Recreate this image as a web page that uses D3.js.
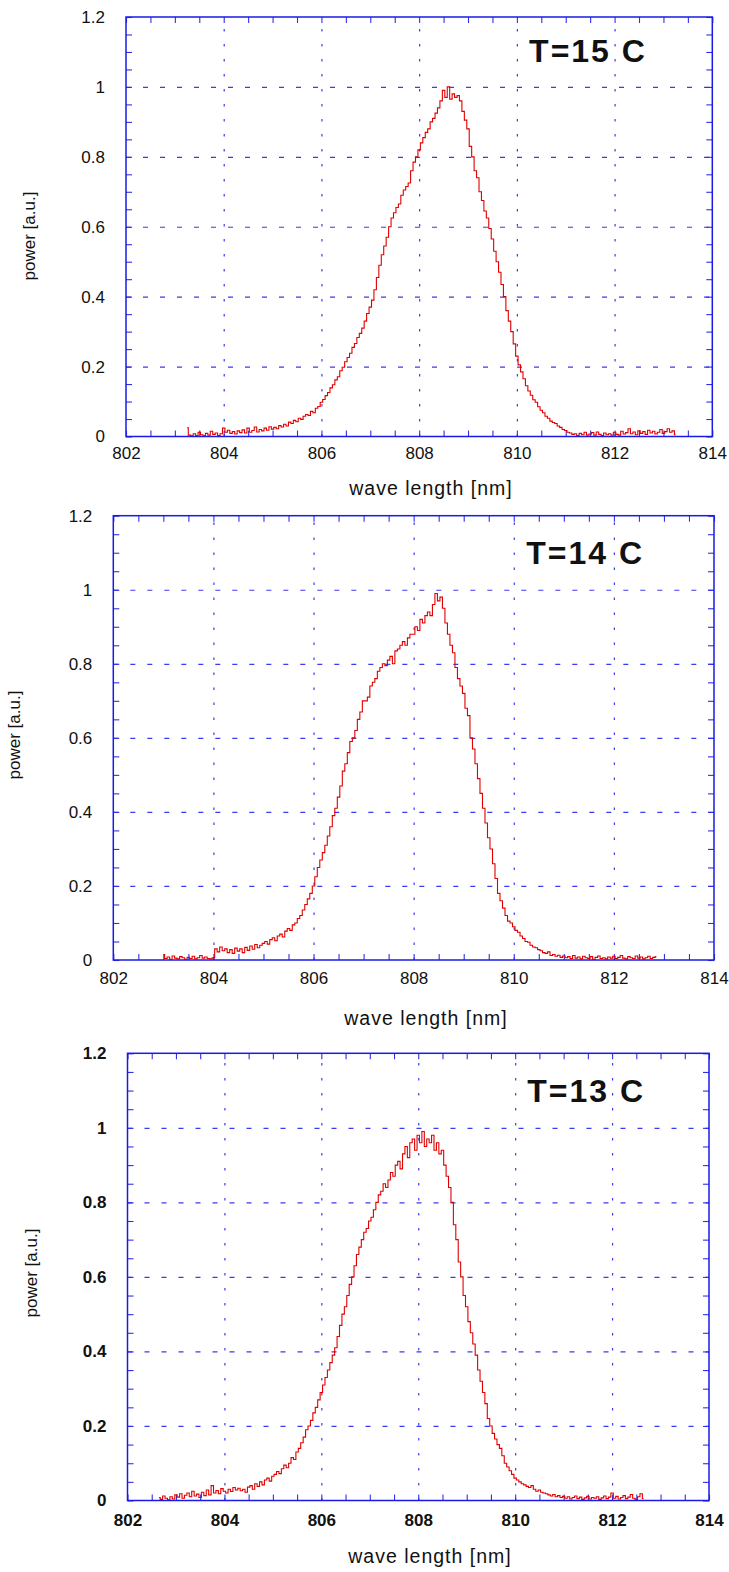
<!DOCTYPE html>
<html>
<head>
<meta charset="utf-8">
<script src="https://cdn.jsdelivr.net/npm/d3@7"></script>
<style>
  body { margin: 0; background: #fff; }
  svg text { font-family: "Liberation Sans", Arial, sans-serif; fill: #111; }
</style>
</head>
<body>
<svg id="chart" width="729" height="1572"></svg>
<script>
// Tick values and labels
const xTicks = [802, 804, 806, 808, 810, 812, 814];
const yTicks = [0, 0.2, 0.4, 0.6, 0.8, 1, 1.2];
const titles = ["T=15 C", "T=14 C", "T=13 C"];
const xLabel = "wave length [nm]";
const yLabel = "power [a.u.]";

// Spectra: first wavelength of each record (nm), sampled every 0.05 nm
const step = 0.05;
const start15 = 803.25;
const start14 = 803.0;
const start13 = 802.65;

// T=15 C
const power15 = [
  .025, .004, .002, .008, .003, .012, .005, .002, .009, .004, .015, .006, .010, .003, .008, .024, .012, .018,
  .009, .014, .007, .016, .011, .019, .010, .024, .012, .017, .027, .013, .020, .016, .024, .018, .028, .021,
  .026, .022, .031, .027, .035, .030, .041, .037, .046, .042, .052, .049, .058, .063, .060, .072, .068, .081, .086, .098,
  .106, .117, .126, .139, .148, .162, .171, .188, .198, .214, .226, .238, .255, .266, .283, .295, .310, .330, .352, .370,
  .390, .420, .455, .490, .520, .545, .570, .600, .625, .640, .655, .665, .690, .705, .715, .725, .760, .785, .800, .820,
  .840, .855, .870, .880, .900, .910, .925, .940, .960, .990, .970, 1.00, .965, .980, .970, .975, .960, .930, .905, .880,
  .830, .800, .760, .740, .700, .675, .645, .625, .595, .565, .530, .500, .470, .435, .400, .360, .330, .300, .265, .230,
  .205, .185, .165, .145, .130, .118, .105, .098, .085, .075, .068, .058, .052, .044, .040, .037, .030, .026, .020, .017,
  .012, .010, .006, .008, .003, .009, .005, .012, .004, .007, .011, .004, .013, .006, .003, .010, .005, .008, .004, .012,
  .006, .004, .015, .007, .011, .022, .008, .013, .005, .016, .009, .014, .006, .018, .010, .015, .007, .012, .020, .009,
  .014, .022, .012, .016, .005
];

// T=14 C
const power14 = [
  .015, .004, .008, .002, .011, .005, .003, .009, .006, .002, .007, .004, .010, .003, .006, .012, .005, .008, .004, .003, .006,
  .030, .022, .035, .025, .030, .020, .028, .018, .032, .024, .030, .020, .034, .026, .038, .029, .042, .033, .040, .045,
  .050, .043, .055, .060, .052, .065, .070, .062, .078, .085, .080, .095, .100, .112, .120, .135, .150, .165, .180, .200,
  .225, .250, .270, .290, .310, .335, .360, .390, .410, .440, .470, .510, .530, .560, .590, .600, .620, .650, .670, .700,
  .700, .710, .740, .750, .760, .780, .790, .800, .795, .810, .820, .800, .835, .840, .850, .860, .850, .870, .880, .880,
  .900, .890, .920, .910, .930, .940, .930, .960, .990, .970, .980, .950, .910, .880, .850, .830, .790, .760, .740, .720,
  .680, .660, .600, .570, .530, .490, .450, .410, .370, .330, .300, .260, .220, .180, .160, .140, .120, .105, .100, .090,
  .080, .075, .065, .058, .050, .048, .040, .035, .033, .028, .025, .020, .018, .022, .012, .015, .010, .013, .007, .011,
  .006, .009, .004, .012, .005, .008, .003, .010, .006, .004, .009, .002, .007, .011, .004, .006, .003, .008, .005, .010,
  .004, .007, .012, .005, .003, .009, .006, .004, .011, .005, .008, .003, .006, .010, .004, .007, .009
];

// T=13 C
const power13 = [
  .008, .003, .012, .006, .002, .010, .004, .015,
  .009, .018, .006, .014, .020, .010, .025, .012, .017, .008, .022, .013, .028, .015, .040, .020, .027, .018, .032, .025,
  .020, .030, .024, .035, .028, .033, .026, .030, .022, .036, .040, .030, .045, .038, .050, .042, .055, .060, .052, .065,
  .070, .078, .072, .085, .095, .088, .100, .115, .110, .130, .140, .155, .170, .190, .200, .215, .235, .250, .270, .290,
  .310, .330, .350, .370, .390, .410, .440, .470, .500, .520, .550, .580, .600, .630, .660, .680, .700, .720, .730, .750,
  .760, .780, .800, .820, .830, .850, .840, .860, .880, .870, .900, .910, .890, .930, .950, .920, .960, .970, .940, .980,
  .960, .990, .950, .970, .960, .980, .940, .960, .930, .940, .900, .870, .840, .800, .740, .700, .640, .600, .550, .520,
  .480, .450, .420, .390, .350, .320, .290, .260, .220, .200, .180, .165, .150, .140, .120, .100, .090, .080, .070, .060,
  .055, .050, .045, .042, .038, .035, .040, .030, .025, .028, .022, .020, .018, .015, .012, .016, .010, .013, .008, .011,
  .006, .010, .004, .008, .012, .005, .009, .003, .007, .011, .004, .008, .006, .010, .003, .007, .012, .005, .009, .020,
  .006, .011, .004, .008, .013, .005, .009, .016, .006, .003, .010, .018, .005
];

// Panel layout (pixels)
const panels = [
  { title: titles[0], start: start15, power: power15, left: 126, right: 712.3, top: 17, bottom: 436.5,
    bold: false, xPad: 10, yLabX: 35, yLabY: 236, xLabX: 431, xLabY: 495 },
  { title: titles[1], start: start14, power: power14, left: 113.3, right: 714, top: 515.7, bottom: 960,
    bold: false, xPad: 12, yLabX: 20, yLabY: 735, xLabX: 426, xLabY: 1025 },
  { title: titles[2], start: start13, power: power13, left: 127.5, right: 709, top: 1053.3, bottom: 1500.5,
    bold: true, xPad: 13, yLabX: 37, yLabY: 1273, xLabX: 430, xLabY: 1563 }
];

const svg = d3.select("#chart");
const blue = "#1a1ae8";
const xMinor = d3.range(802, 814.001, 0.5);
const yMinor = d3.range(0, 1.2001, 0.05);

panels.forEach((p) => {
  const x = d3.scaleLinear([802, 814], [p.left, p.right]);
  const y = d3.scaleLinear([0, 1.2], [p.bottom, p.top]);
  const w = p.right - p.left;
  const h = p.bottom - p.top;
  const g = svg.append("g");

  // dotted grid
  g.append("g")
    .attr("transform", `translate(0,${p.bottom})`)
    .call(d3.axisBottom(x).tickValues(xTicks.slice(1, -1)).tickSize(-h).tickFormat(""))
    .call((a) => a.select(".domain").remove())
    .selectAll(".tick line")
    .attr("stroke", "#3b3bf0")
    .attr("stroke-width", 1.2)
    .attr("stroke-dasharray", "2.5,12.5");
  g.append("g")
    .attr("transform", `translate(${p.left},0)`)
    .call(d3.axisLeft(y).tickValues(yTicks.slice(1, -1)).tickSize(-w).tickFormat(""))
    .call((a) => a.select(".domain").remove())
    .selectAll(".tick line")
    .attr("stroke", "#3b3bf0")
    .attr("stroke-width", 1.2)
    .attr("stroke-dasharray", "5,12");

  // inward minor ticks on all four sides
  const tickAxes = [
    [d3.axisBottom(x).tickValues(xMinor), `translate(0,${p.bottom})`],
    [d3.axisTop(x).tickValues(xMinor), `translate(0,${p.top})`],
    [d3.axisLeft(y).tickValues(yMinor), `translate(${p.left},0)`],
    [d3.axisRight(y).tickValues(yMinor), `translate(${p.right},0)`]
  ];
  tickAxes.forEach(([ax, tr]) => {
    g.append("g")
      .attr("transform", tr)
      .call(ax.tickSize(-6).tickFormat(""))
      .call((a) => a.select(".domain").remove())
      .selectAll(".tick line")
      .attr("stroke", "#3030e8")
      .attr("stroke-width", 1.1);
  });

  // spectrum
  const pts = p.power.map((v, i) => [p.start + i * step, v]);
  g.append("path")
    .datum(pts)
    .attr("fill", "none")
    .attr("stroke", "#e00000")
    .attr("stroke-width", 1.1)
    .attr("d", d3.line().x((d) => x(d[0])).y((d) => y(d[1])).curve(d3.curveStep));

  // frame
  g.append("rect")
    .attr("x", p.left).attr("y", p.top)
    .attr("width", w).attr("height", h)
    .attr("fill", "none")
    .attr("stroke", blue)
    .attr("stroke-width", 1.5);

  // tick labels
  const weight = p.bold ? "bold" : "normal";
  g.append("g")
    .attr("transform", `translate(0,${p.bottom})`)
    .call(d3.axisBottom(x).tickValues(xTicks).tickSize(0).tickPadding(p.xPad).tickFormat(d3.format("d")))
    .call((a) => a.select(".domain").remove())
    .selectAll("text")
    .attr("font-size", 17)
    .attr("font-weight", weight)
    .attr("font-family", null)
    .attr("fill", "#111");
  g.append("g")
    .attr("transform", `translate(${p.left},0)`)
    .call(d3.axisLeft(y).tickValues(yTicks).tickSize(0).tickPadding(21).tickFormat((d) => String(+d.toFixed(1))))
    .call((a) => a.select(".domain").remove())
    .selectAll("text")
    .attr("font-size", 17)
    .attr("font-weight", weight)
    .attr("font-family", null)
    .attr("fill", "#111");

  // axis titles
  g.append("text")
    .attr("x", p.xLabX).attr("y", p.xLabY)
    .attr("text-anchor", "middle")
    .attr("font-size", 19.5)
    .attr("letter-spacing", 1)
    .text(xLabel);
  g.append("text")
    .attr("transform", `translate(${p.yLabX},${p.yLabY}) rotate(-90)`)
    .attr("text-anchor", "middle")
    .attr("font-size", 17)
    .text(yLabel);

  // temperature label
  g.append("text")
    .attr("x", x(810.25)).attr("y", y(1.07))
    .attr("font-size", 32)
    .attr("font-weight", "bold")
    .attr("letter-spacing", 2)
    .text(p.title);
});
</script>
</body>
</html>
